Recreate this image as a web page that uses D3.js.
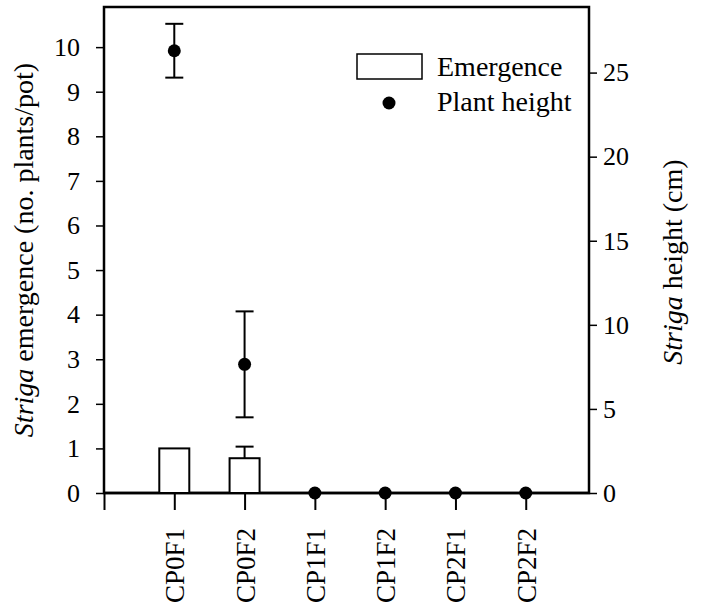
<!DOCTYPE html>
<html>
<head>
<meta charset="utf-8">
<script src="https://cdn.jsdelivr.net/npm/d3@7"></script>
<style>
	body { margin: 0; background: #fff; }
	svg text { font-family: "Liberation Serif", "Times New Roman", serif; fill: #000; }
</style>
</head>
<body>
<svg class="chart" width="703" height="609"></svg>
<script>
// treatments along the x axis
var categories = ["CP0F1", "CP0F2", "CP1F1", "CP1F2", "CP2F1", "CP2F2"];
// Striga emergence (no. plants/pot), left axis
var emergence = [1.0, 0.78, 0, 0, 0, 0];
var emergenceErr = [0, 0.26, 0, 0, 0, 0];
// Striga height (cm), right axis
var plantHeight = [26.3, 7.65, 0, 0, 0, 0];
var plantHeightErr = [1.6, 3.15, 0, 0, 0, 0];
var leftTicks = [0, 1, 2, 3, 4, 5, 6, 7, 8, 9, 10];
var rightTicks = [0, 5, 10, 15, 20, 25];

var margin = { top: 7, right: 114, bottom: 116, left: 104 },
	width = 703,
	height = 609;

var svg = d3.select(".chart");

let x = d3
	.scaleLinear()
	.domain([0, 6.9])
	.range([margin.left, width - margin.right]);

let yL = d3
	.scaleLinear()
	.domain([0, 10.9])
	.range([height - margin.bottom, margin.top]);

let yR = d3
	.scaleLinear()
	.domain([0, 28.9])
	.range([height - margin.bottom, margin.top]);

var base = height - margin.bottom;

// frame
svg
	.append("rect")
	.attr("x", x(0))
	.attr("y", margin.top)
	.attr("width", x(6.9) - x(0))
	.attr("height", base - margin.top)
	.attr("fill", "none")
	.attr("stroke", "#000")
	.attr("stroke-width", 2.5);

let yAxisL = (g) =>
	g
		.attr("transform", `translate(${margin.left},0)`)
		.call(d3.axisLeft(yL).tickValues(leftTicks).tickSize(8).tickPadding(16))
		.call((g) => g.select(".domain").remove())
		.call((g) => g.selectAll("line").attr("stroke-width", 1.5))
		.call((g) => g.selectAll("text").attr("font-size", 26));

let yAxisR = (g) =>
	g
		.attr("transform", `translate(${x(6.9)},0)`)
		.call(d3.axisRight(yR).tickValues(rightTicks).tickSize(8).tickPadding(6))
		.call((g) => g.select(".domain").remove())
		.call((g) => g.selectAll("line").attr("stroke-width", 1.5))
		.call((g) => g.selectAll("text").attr("font-size", 26));

let xAxis = (g) =>
	g
		.attr("transform", `translate(0,${base})`)
		.call(
			d3
				.axisBottom(x)
				.tickValues([0, 1, 2, 3, 4, 5, 6])
				.tickFormat((d) => (d === 0 ? "" : categories[d - 1]))
				.tickSize(17)
				.tickSizeOuter(0)
		)
		.call((g) => g.select(".domain").remove())
		.call((g) => g.selectAll("line").attr("stroke-width", 2))
		.call((g) =>
			g
				.selectAll("text")
				.attr("font-size", 27)
				.attr("text-anchor", "end")
				.attr("transform", "rotate(-90)")
				.attr("x", -35)
				.attr("y", 0)
				.attr("dy", "0.35em")
		);

svg.append("g").call(yAxisL);
svg.append("g").call(yAxisR);
svg.append("g").call(xAxis);

// baseline
svg
	.append("line")
	.attr("x1", x(0))
	.attr("x2", x(6.9))
	.attr("y1", base)
	.attr("y2", base)
	.attr("stroke", "#000")
	.attr("stroke-width", 2.5);

// bars
var barW = 30;
svg
	.selectAll(".bar")
	.data(emergence.map((v, i) => ({ v: v, i: i })).filter((d) => d.v > 0))
	.enter()
	.append("rect")
	.attr("class", "bar")
	.attr("x", (d) => x(d.i + 1) - barW / 2)
	.attr("y", (d) => yL(d.v))
	.attr("width", barW)
	.attr("height", (d) => base - yL(d.v))
	.attr("fill", "#fff")
	.attr("stroke", "#000")
	.attr("stroke-width", 2);

var cap = 9;
// error bars for emergence (upper only)
emergence.forEach((d, i) => {
	if (emergenceErr[i] <= 0) return;
	var cx = x(i + 1);
	svg.append("line").attr("x1", cx).attr("x2", cx)
		.attr("y1", yL(d)).attr("y2", yL(d + emergenceErr[i]))
		.attr("stroke", "#000").attr("stroke-width", 2);
	svg.append("line").attr("x1", cx - cap).attr("x2", cx + cap)
		.attr("y1", yL(d + emergenceErr[i])).attr("y2", yL(d + emergenceErr[i]))
		.attr("stroke", "#000").attr("stroke-width", 2);
});

// error bars for plant height
plantHeight.forEach((d, i) => {
	if (plantHeightErr[i] <= 0) return;
	var cx = x(i + 1),
		hi = yR(d + plantHeightErr[i]),
		lo = yR(d - plantHeightErr[i]);
	svg.append("line").attr("x1", cx).attr("x2", cx).attr("y1", hi).attr("y2", lo)
		.attr("stroke", "#000").attr("stroke-width", 2);
	[hi, lo].forEach((yy) =>
		svg.append("line").attr("x1", cx - cap).attr("x2", cx + cap).attr("y1", yy).attr("y2", yy)
			.attr("stroke", "#000").attr("stroke-width", 2)
	);
});

// points
svg
	.selectAll(".pt")
	.data(plantHeight)
	.enter()
	.append("circle")
	.attr("class", "pt")
	.attr("cx", (d, i) => x(i + 1))
	.attr("cy", (d) => yR(d))
	.attr("r", 6.5)
	.attr("fill", "#000");

// legend
var legend = svg.append("g");
legend
	.append("rect")
	.attr("x", 357)
	.attr("y", 54)
	.attr("width", 65)
	.attr("height", 25)
	.attr("fill", "#fff")
	.attr("stroke", "#000")
	.attr("stroke-width", 1.5);
legend.append("text").attr("x", 437).attr("y", 76).attr("font-size", 28).text("Emergence");
legend.append("circle").attr("cx", 389).attr("cy", 103).attr("r", 6.5).attr("fill", "#000");
legend.append("text").attr("x", 437).attr("y", 111).attr("font-size", 28).text("Plant height");

// axis titles
var tl = svg
	.append("text")
	.attr("text-anchor", "middle")
	.attr("font-size", 28)
	.attr("transform", `translate(33,${(margin.top + base) / 2}) rotate(-90)`);
tl.append("tspan").attr("font-style", "italic").text("Striga");
tl.append("tspan").text(" emergence (no. plants/pot)");

var tr = svg
	.append("text")
	.attr("text-anchor", "middle")
	.attr("font-size", 28)
	.attr("transform", `translate(682,${(margin.top + base) / 2 + 12}) rotate(-90)`);
tr.append("tspan").attr("font-style", "italic").text("Striga");
tr.append("tspan").text(" height (cm)");
</script>
</body>
</html>
